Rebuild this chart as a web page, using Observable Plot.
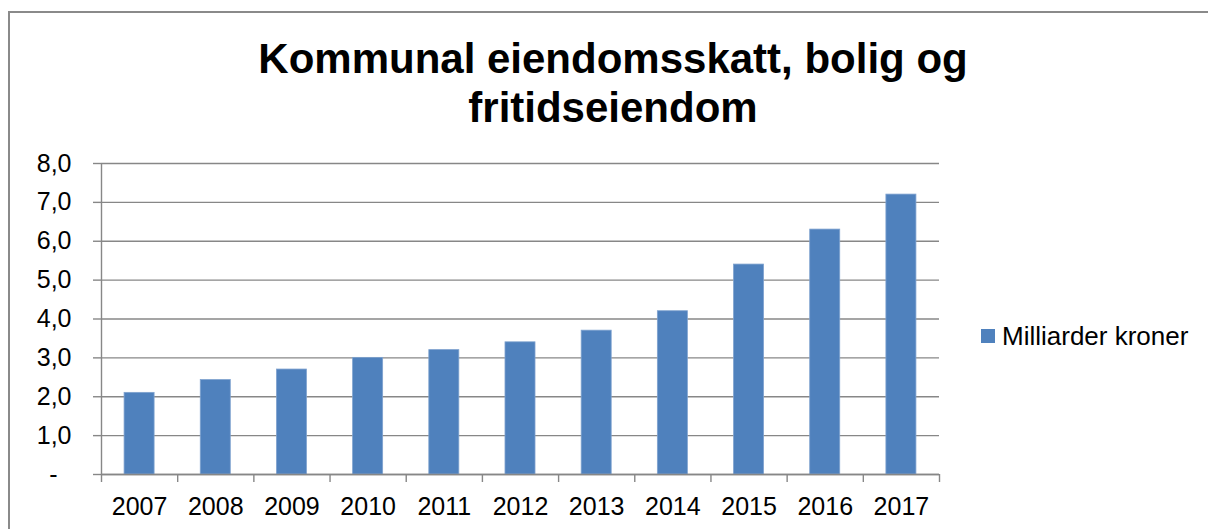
<!DOCTYPE html>
<html>
<head>
<meta charset="utf-8">
<script src="https://cdn.jsdelivr.net/npm/d3@7"></script>
<script src="https://cdn.jsdelivr.net/npm/@observablehq/plot@0.6"></script>
<style>
  html, body { margin: 0; padding: 0; background: #fff; overflow: hidden; }
  body { width: 1208px; height: 529px; position: relative; font-family: "Liberation Sans", Arial, sans-serif; }
  #frame { position: absolute; left: 8px; top: 11px; width: 1300px; height: 700px; border: 2px solid #8a8a8a; box-sizing: border-box; }
  #title { position: absolute; left: 0; top: 34px; width: 1226px; text-align: center; font-weight: bold; font-size: 42px; line-height: 49px; color: #000; white-space: nowrap; }
  #chart { position: absolute; left: 0; top: 0; }
  #legend { position: absolute; left: 981px; top: 322px; height: 28px; display: flex; align-items: center; font-size: 26px; color: #000; white-space: nowrap; }
  #legend .sw { width: 14px; height: 14px; background: #4F81BD; margin-right: 7px; }
</style>
</head>
<body>
<div id="frame"></div>
<div id="chart"></div>
<div id="title">Kommunal eiendomsskatt, bolig og<br>fritidseiendom</div>
<div id="legend"><div class="sw"></div><span>Milliarder kroner</span></div>
<script>
const years = [2007, 2008, 2009, 2010, 2011, 2012, 2013, 2014, 2015, 2016, 2017];
const values = [2.1, 2.43, 2.7, 3.0, 3.2, 3.4, 3.7, 4.2, 5.4, 6.3, 7.2];
const yTicks = [0, 1, 2, 3, 4, 5, 6, 7, 8];
const yTickLabels = ["-\u2007", "1,0", "2,0", "3,0", "4,0", "5,0", "6,0", "7,0", "8,0"];
const seriesName = "Milliarder kroner";

const data = years.map((year, i) => ({year, value: values[i], series: seriesName}));
const bounds = d3.range(years[0] - 0.5, years[years.length - 1] + 1, 1);
const gray = "#878787";
const halfBar = 0.197;

const chart = Plot.plot({
  width: 1208,
  height: 529,
  marginLeft: 101,
  marginRight: 269,
  marginTop: 163,
  marginBottom: 55,
  style: {fontFamily: '"Liberation Sans", Arial, sans-serif', fontSize: "25px", color: "#000", background: "transparent"},
  x: {type: "linear", domain: [years[0] - 0.5, years[years.length - 1] + 0.5]},
  y: {domain: [0, 8]},
  marks: [
    Plot.gridY(yTicks, {stroke: gray, strokeOpacity: 1, strokeWidth: 1.4}),
    Plot.rectY(data, {x1: d => d.year - halfBar, x2: d => d.year + halfBar, y: "value", fill: "#4F81BD", stroke: "#7fa2cf", strokeWidth: 0.8}),
    Plot.ruleX([years[0] - 0.5], {stroke: gray, strokeWidth: 1.4}),
    Plot.ruleY([0], {stroke: gray, strokeWidth: 1.4}),
    Plot.axisY(yTicks, {tickSize: 8, tickPadding: 22, stroke: gray, strokeWidth: 1.4, strokeOpacity: 1, tickFormat: (d) => yTickLabels[yTicks.indexOf(d)], label: null, fill: "#000"}),
    Plot.axisX(bounds, {tickSize: 8, stroke: gray, strokeWidth: 1.4, strokeOpacity: 1, tickFormat: () => "", label: null}),
    Plot.axisX(years, {tickSize: 0, tickPadding: 23, tickFormat: d => String(d), label: null, fill: "#000"})
  ]
});
document.getElementById("chart").appendChild(chart);
</script>
</body>
</html>
